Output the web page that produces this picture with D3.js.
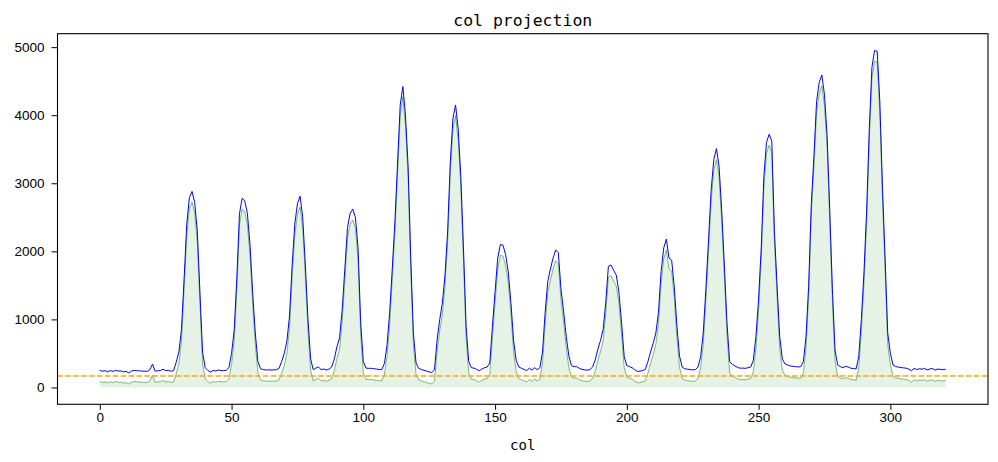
<!DOCTYPE html>
<html>
<head>
<meta charset="utf-8">
<script src="https://cdn.jsdelivr.net/npm/d3@7"></script>
<style>
  html, body { margin: 0; padding: 0; background: #fff; }
  svg { display: block; }
</style>
</head>
<body>
<script>
// column projection, raw values (blue)
const rawValues = [
  252, 238, 246, 230, 248, 236, 250, 240, 244, 228,
  236, 213, 240, 250, 247, 244, 240, 238, 236, 262,
  343, 238, 246, 248, 268, 245, 252, 240, 245, 370,
  520, 850, 1600, 2400, 2790, 2880, 2720, 2300, 1400, 520,
  290, 250, 226, 250, 242, 256, 248, 246, 252, 290,
  500, 840, 1600, 2550, 2780, 2740, 2560, 2100, 1400, 800,
  380, 275, 262, 258, 258, 256, 258, 260, 280, 380,
  500, 680, 1050, 1800, 2400, 2700, 2810, 2500, 1800, 1000,
  420, 260, 285, 300, 262, 270, 255, 270, 300, 420,
  600, 730, 1150, 1750, 2350, 2560, 2620, 2500, 2050, 950,
  380, 285, 280, 282, 275, 270, 262, 262, 350, 620,
  1100, 1750, 2450, 3300, 4150, 4420, 4000, 3250, 1900, 800,
  360, 280, 265, 252, 240, 228, 218, 260, 700, 1000,
  1240, 1650, 2300, 3300, 3950, 4150, 3800, 3100, 2050, 900,
  380, 290, 284, 265, 245, 272, 290, 300, 360, 900,
  1410, 1900, 2100, 2090, 1950, 1700, 1250, 700, 400, 300,
  282, 265, 248, 282, 255, 290, 262, 290, 520, 1100,
  1560, 1740, 1900, 2020, 1980, 1450, 1120, 750, 460, 320,
  306, 305, 280, 265, 258, 255, 262, 300, 405, 560,
  690, 850, 1250, 1780, 1800, 1720, 1650, 1400, 950, 450,
  320, 306, 290, 260, 235, 240, 250, 265, 380, 520,
  650, 800, 1100, 1700, 2050, 2180, 1900, 1870, 1480, 900,
  460, 300, 275, 268, 262, 258, 262, 300, 450, 800,
  1450, 2170, 2900, 3350, 3510, 3250, 2600, 1800, 950, 380,
  340, 316, 295, 282, 285, 280, 290, 300, 400, 750,
  1300, 2050, 3100, 3600, 3720, 3620, 2300, 1500, 750, 420,
  346, 330, 316, 310, 306, 300, 306, 380, 750, 1500,
  2700, 3400, 4200, 4480, 4590, 4300, 3700, 2600, 1450, 550,
  330, 306, 292, 310, 300, 282, 278, 272, 450, 1000,
  1700, 2600, 3800, 4700, 4950, 4940, 4200, 2950, 1900, 800,
  500, 330, 306, 300, 292, 288, 282, 270, 243, 280,
  262, 275, 268, 280, 258, 272, 278, 255, 270, 265,
  262, 268,
];

// background-corrected projection (green)
const correctedValues = [
  87, 75, 82, 66, 84, 72, 86, 76, 80, 64,
  72, 50, 76, 86, 83, 80, 76, 74, 72, 97,
  178, 74, 82, 84, 103, 80, 88, 76, 80, 200,
  350, 685, 1440, 2240, 2630, 2725, 2565, 2140, 1240, 355,
  125, 85, 62, 86, 78, 92, 84, 82, 88, 125,
  335, 675, 1440, 2390, 2620, 2580, 2400, 1940, 1240, 640,
  215, 110, 97, 93, 93, 91, 93, 95, 112, 205,
  320, 500, 880, 1635, 2240, 2540, 2650, 2340, 1640, 835,
  255, 95, 120, 135, 97, 105, 90, 105, 130, 250,
  430, 560, 985, 1590, 2190, 2400, 2460, 2340, 1890, 785,
  215, 120, 115, 117, 110, 105, 97, 97, 185, 455,
  935, 1590, 2290, 3140, 3990, 4270, 3840, 3090, 1740, 635,
  195, 112, 98, 85, 72, 60, 52, 92, 535, 835,
  1075, 1490, 2140, 3140, 3790, 3995, 3640, 2940, 1890, 735,
  215, 122, 118, 98, 78, 105, 122, 132, 195, 735,
  1250, 1740, 1940, 1930, 1790, 1540, 1090, 535, 235, 132,
  115, 98, 80, 115, 88, 122, 95, 122, 355, 935,
  1400, 1580, 1740, 1860, 1820, 1290, 955, 585, 295, 152,
  138, 137, 112, 98, 90, 88, 95, 132, 238, 395,
  525, 685, 1085, 1620, 1640, 1560, 1490, 1240, 785, 285,
  152, 138, 122, 92, 68, 72, 82, 98, 212, 352,
  482, 632, 935, 1540, 1890, 2020, 1740, 1710, 1320, 735,
  295, 132, 108, 100, 95, 90, 95, 132, 285, 635,
  1290, 2010, 2740, 3190, 3350, 3090, 2440, 1640, 785, 215,
  172, 150, 128, 115, 118, 112, 122, 132, 235, 585,
  1140, 1890, 2940, 3440, 3560, 3460, 2140, 1340, 585, 255,
  180, 165, 150, 145, 140, 135, 140, 215, 585, 1340,
  2540, 3240, 4040, 4320, 4430, 4140, 3540, 2440, 1290, 385,
  165, 140, 126, 145, 135, 116, 112, 106, 285, 835,
  1540, 2440, 3640, 4540, 4790, 4780, 4040, 2790, 1740, 635,
  335, 165, 140, 135, 126, 122, 116, 104, 76, 114,
  96, 109, 102, 114, 92, 106, 112, 89, 104, 99,
  96, 102,
];

// threshold line
const thresholdValue = 169;

// tick labels
const xTicks = [0, 50, 100, 150, 200, 250, 300];
const yTicks = [0, 1000, 2000, 3000, 4000, 5000];

const titleText = "col projection";
const xLabelText = "col";

// figure and axes frame
const size = { width: 998, height: 462 };
const frame = { left: 57.5, right: 988, top: 33.7, bottom: 404.3 };

const svg = d3.select("body").append("svg")
  .attr("width", size.width)
  .attr("height", size.height);

const points = rawValues.map((v, i) => ({ i, raw: v, cor: correctedValues[i] }));

// matplotlib-style 5% margins
const n = rawValues.length - 1;
const xPad = n * 0.05;
const yMin = 0;
const yMax = d3.max(rawValues);
const yPad = (yMax - yMin) * 0.05;

const x = d3.scaleLinear().domain([-xPad, n + xPad]).range([frame.left, frame.right]);
const y = d3.scaleLinear().domain([yMin - yPad, yMax + yPad]).range([frame.bottom, frame.top]);

svg.append("defs").append("clipPath").attr("id", "plot-clip")
  .append("rect")
  .attr("x", frame.left).attr("y", frame.top)
  .attr("width", frame.right - frame.left)
  .attr("height", frame.bottom - frame.top);

const plot = svg.append("g").attr("clip-path", "url(#plot-clip)");

// shaded area under corrected curve
plot.append("path")
  .datum(points)
  .attr("fill", "rgba(0,128,0,0.1)")
  .attr("d", d3.area().x((d) => x(d.i)).y0(y(0)).y1((d) => y(d.cor)));

// corrected curve
plot.append("path")
  .datum(points)
  .attr("fill", "none")
  .attr("stroke", "rgba(0,128,0,0.5)")
  .attr("stroke-width", 1)
  .attr("stroke-linejoin", "round")
  .attr("d", d3.line().x((d) => x(d.i)).y((d) => y(d.cor)));

// raw curve
plot.append("path")
  .datum(points)
  .attr("fill", "none")
  .attr("stroke", "#0000ff")
  .attr("stroke-width", 1)
  .attr("stroke-linejoin", "round")
  .attr("d", d3.line().x((d) => x(d.i)).y((d) => y(d.raw)));

// threshold
plot.append("line")
  .attr("x1", frame.left).attr("x2", frame.right)
  .attr("y1", y(thresholdValue)).attr("y2", y(thresholdValue))
  .attr("stroke", "#ffa500")
  .attr("stroke-width", 1.5)
  .attr("stroke-dasharray", "5.5,2.4");

// axes
const tickFont = "'Liberation Sans', Arial, sans-serif";
const monoFont = "'DejaVu Sans Mono', monospace";

const xAxis = svg.append("g")
  .attr("transform", `translate(0,${frame.bottom})`)
  .call(d3.axisBottom(x).tickValues(xTicks).tickFormat(d3.format("d")).tickSize(5.5).tickPadding(3));
xAxis.select(".domain").remove();
xAxis.selectAll("text").attr("font-family", tickFont).attr("font-size", "13.5px").attr("fill", "#000");
xAxis.selectAll("line").attr("stroke", "#000").attr("stroke-width", 1);

const yAxis = svg.append("g")
  .attr("transform", `translate(${frame.left},0)`)
  .call(d3.axisLeft(y).tickValues(yTicks).tickFormat(d3.format("d")).tickSize(6).tickPadding(7));
yAxis.select(".domain").remove();
yAxis.selectAll("text").attr("font-family", tickFont).attr("font-size", "13.5px").attr("fill", "#000");
yAxis.selectAll("line").attr("stroke", "#000").attr("stroke-width", 1);

// frame
svg.append("rect")
  .attr("x", frame.left).attr("y", frame.top)
  .attr("width", frame.right - frame.left)
  .attr("height", frame.bottom - frame.top)
  .attr("fill", "none")
  .attr("stroke", "#000")
  .attr("stroke-width", 1.1);

// title and label
svg.append("text")
  .attr("x", (frame.left + frame.right) / 2)
  .attr("y", 26)
  .attr("text-anchor", "middle")
  .attr("font-family", monoFont)
  .attr("font-size", "16.5px")
  .text(titleText);

svg.append("text")
  .attr("x", (frame.left + frame.right) / 2)
  .attr("y", 450)
  .attr("text-anchor", "middle")
  .attr("font-family", monoFont)
  .attr("font-size", "14px")
  .text(xLabelText);
</script>
</body>
</html>
